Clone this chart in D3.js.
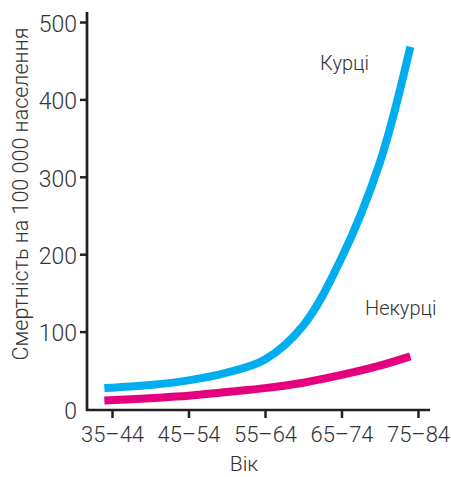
<!DOCTYPE html>
<html>
<head>
<meta charset="utf-8">
<script src="https://cdn.jsdelivr.net/npm/d3@7"></script>
<style>
  html, body { margin: 0; padding: 0; background: #fff; }
  svg { display: block; }
  text { font-family: Roboto, "Noto Sans", sans-serif; font-weight: 300; fill: #333; }
</style>
</head>
<body>
<svg id="chart" width="451" height="477"></svg>
<script>
// Age-group tick positions (midpoints) and labels
const tickAges = [40, 50, 60, 70, 80];
const tickLabels = ["35–44", "45–54", "55–64", "65–74", "75–84"];
const yTicks = [0, 100, 200, 300, 400, 500];

// Readings along the curves (age, deaths per 100 000)
const ages = [39, 45, 50, 55, 60, 65, 70, 75, 79];
const smokers = [27, 31, 37, 47, 64, 108, 195, 318, 468];
const nonSmokers = [11, 14, 17, 22, 27, 34, 44, 56, 68];

const seriesNames = ["Курці", "Некурці"];
const seriesColors = ["#00aeef", "#e6007e"];

const svg = d3.select("#chart");

const x = d3.scaleLinear().domain([40, 80]).range([112, 418]);
const y = d3.scaleLinear().domain([0, 500]).range([409, 22]);

const axisColor = "#231f20";

// Y axis
const yAxis = svg.append("g")
  .attr("transform", "translate(87,0)")
  .call(d3.axisLeft(y).tickValues(yTicks).tickSize(7).tickPadding(3).tickSizeOuter(0));
yAxis.select(".domain").attr("d", `M0,12V${y(0) + 2}`);
yAxis.selectAll(".tick line").filter(d => d === 0).remove();

// X axis
const xAxis = svg.append("g")
  .attr("transform", `translate(0,${y(0) + 1})`)
  .call(d3.axisBottom(x).tickValues(tickAges).tickFormat((d, i) => tickLabels[i]).tickSize(8).tickPadding(8).tickSizeOuter(0));
xAxis.select(".domain").attr("d", "M86,0H430");

[yAxis, xAxis].forEach(g => {
  g.select(".domain").attr("stroke", axisColor).attr("stroke-width", 2.7);
  g.selectAll(".tick line").attr("stroke", axisColor).attr("stroke-width", 2.5);
  g.selectAll(".tick text").style("font-family", "Roboto, sans-serif").style("font-weight", 300)
    .style("font-size", "22px").attr("fill", "#333");
});
yAxis.selectAll(".tick text").style("font-size", "23px").attr("dy", "0.4em");

// Lines
const line = d3.line().x(d => x(d[0])).y(d => y(d[1])).curve(d3.curveCatmullRom.alpha(0.5));
[smokers, nonSmokers].forEach((vals, i) => {
  svg.append("path")
    .datum(ages.map((a, j) => [a, vals[j]]))
    .attr("d", line)
    .attr("fill", "none")
    .attr("stroke", seriesColors[i])
    .attr("stroke-width", 8)
    .attr("stroke-linecap", "butt");
});

// Series labels
svg.append("text").attr("x", 320).attr("y", 70).style("font-size", "20px").text(seriesNames[0]);
svg.append("text").attr("x", 365).attr("y", 315).style("font-size", "20px").text(seriesNames[1]);

// Axis titles
svg.append("text").attr("x", 244).attr("y", 471).attr("text-anchor", "middle")
  .style("font-size", "21px").text("Вік");
svg.append("text").attr("transform", "translate(28,194) rotate(-90)").attr("text-anchor", "middle")
  .style("font-size", "21.5px").text("Смертність на 100 000 населення");
</script>
</body>
</html>
